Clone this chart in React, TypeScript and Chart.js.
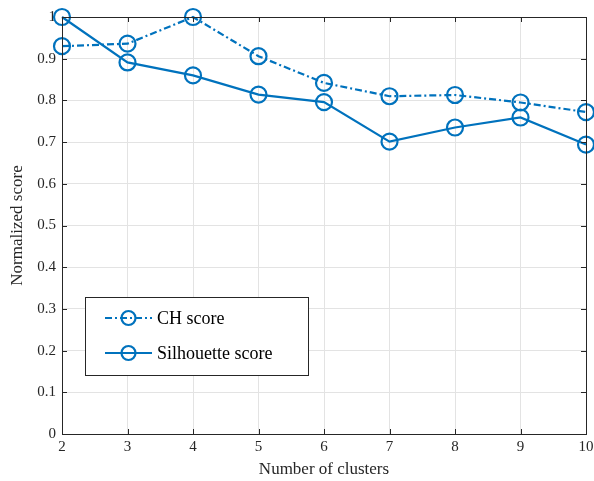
import React, { useEffect, useRef } from "react";
import { Chart, registerables } from "chart.js";

Chart.register(...registerables);

const clusters = [2, 3, 4, 5, 6, 7, 8, 9, 10];
const chScore = [0.930, 0.936, 1.0, 0.906, 0.842, 0.810, 0.813, 0.795, 0.772];
const silScore = [1.0, 0.891, 0.860, 0.814, 0.796, 0.701, 0.735, 0.759, 0.694];
const seriesLabels = ["CH score", "Silhouette score"];
const xTitle = "Number of clusters";
const yTitle = "Normalized score";

const BLUE = "#0072BD";
const FONT = "'Liberation Serif', 'DejaVu Serif', serif";

const boxPlugin = {
  id: "boxAndTicks",
  afterDraw(chart: any) {
    const { ctx, chartArea: a, scales } = chart;
    ctx.save();
    ctx.strokeStyle = "#262626";
    ctx.lineWidth = 1;
    ctx.beginPath();
    const tl = 5;
    scales.x.ticks.forEach((t: any) => {
      const px = Math.round(scales.x.getPixelForValue(t.value)) + 0.5;
      ctx.moveTo(px, a.bottom);
      ctx.lineTo(px, a.bottom - tl);
      ctx.moveTo(px, a.top);
      ctx.lineTo(px, a.top + tl);
    });
    scales.y.ticks.forEach((t: any) => {
      const py = Math.round(scales.y.getPixelForValue(t.value)) + 0.5;
      ctx.moveTo(a.left, py);
      ctx.lineTo(a.left + tl, py);
      ctx.moveTo(a.right, py);
      ctx.lineTo(a.right - tl, py);
    });
    ctx.stroke();
    ctx.strokeRect(Math.round(a.left) + 0.5, Math.round(a.top) + 0.5, Math.round(a.right - a.left), Math.round(a.bottom - a.top));

    // legend
    const lx = 85.5, ly = 297.5, lw = 223, lh = 78;
    ctx.fillStyle = "#ffffff";
    ctx.fillRect(lx, ly, lw, lh);
    ctx.strokeStyle = "#262626";
    ctx.strokeRect(lx, ly, lw, lh);
    const rows = [318, 353];
    chart.data.datasets.forEach((ds: any, i: number) => {
      const y = rows[i];
      ctx.strokeStyle = BLUE;
      ctx.lineWidth = 2.2;
      ctx.setLineDash(ds.borderDash || []);
      ctx.beginPath();
      ctx.moveTo(105, y);
      ctx.lineTo(152, y);
      ctx.stroke();
      ctx.setLineDash([]);
      ctx.beginPath();
      ctx.arc(128.5, y, 7, 0, Math.PI * 2);
      ctx.stroke();
      ctx.fillStyle = "#000000";
      ctx.font = `18px ${FONT}`;
      ctx.textBaseline = "middle";
      ctx.textAlign = "left";
      ctx.fillText(ds.label, 157, y + 1);
    });
    ctx.restore();
  },
};

export default function App() {
  const ref = useRef<HTMLCanvasElement>(null);
  useEffect(() => {
    document.body.style.margin = "0";
    const common = {
      borderColor: BLUE,
      backgroundColor: "rgba(0,0,0,0)",
      borderWidth: 2.2,
      pointRadius: 8,
      pointBorderWidth: 2.2,
      pointBorderColor: BLUE,
      pointBackgroundColor: "rgba(0,0,0,0)",
      tension: 0,
      clip: false,
    };
    const chart = new Chart(ref.current!, {
      type: "line",
      data: {
        datasets: [
          {
            ...common,
            label: seriesLabels[0],
            data: clusters.map((x, i) => ({ x, y: chScore[i] })),
            borderDash: [7, 3, 2, 3],
          },
          {
            ...common,
            label: seriesLabels[1],
            data: clusters.map((x, i) => ({ x, y: silScore[i] })),
          },
        ],
      },
      options: {
        animation: false,
        responsive: false,
        layout: { autoPadding: false, padding: { top: 17, right: 8, left: 0, bottom: 0 } },
        plugins: { legend: { display: false }, tooltip: { enabled: false } },
        scales: {
          x: {
            type: "linear",
            min: 2,
            max: 10,
            afterFit: (s: any) => { s.height = 47; s.paddingRight = 0; s.paddingLeft = 0; },
            ticks: { stepSize: 1, color: "#262626", font: { family: FONT, size: 15 }, padding: 4, maxRotation: 0 },
            grid: { color: "#e3e3e3", drawTicks: false },
            border: { display: false },
            title: { display: true, text: xTitle, color: "#262626", font: { family: FONT, size: 17 }, padding: { top: 0, bottom: 1 } },
          },
          y: {
            min: 0,
            max: 1,
            afterFit: (s: any) => { s.width = 62; s.paddingTop = 0; s.paddingBottom = 0; },
            ticks: {
              stepSize: 0.1,
              color: "#262626",
              font: { family: FONT, size: 15 },
              padding: 6,
              callback: (v: any) => (Math.round(v * 10) / 10).toString(),
            },
            grid: { color: "#e3e3e3", drawTicks: false },
            border: { display: false },
            title: { display: true, text: yTitle, color: "#262626", font: { family: FONT, size: 17 }, padding: { top: 7, bottom: 4 } },
          },
        },
      },
      plugins: [boxPlugin],
    } as any);
    return () => chart.destroy();
  }, []);
  return (
    <div style={{ width: 594, height: 481, background: "#fff" }}>
      <canvas ref={ref} width={594} height={481} style={{ display: "block" }} />
    </div>
  );
}
